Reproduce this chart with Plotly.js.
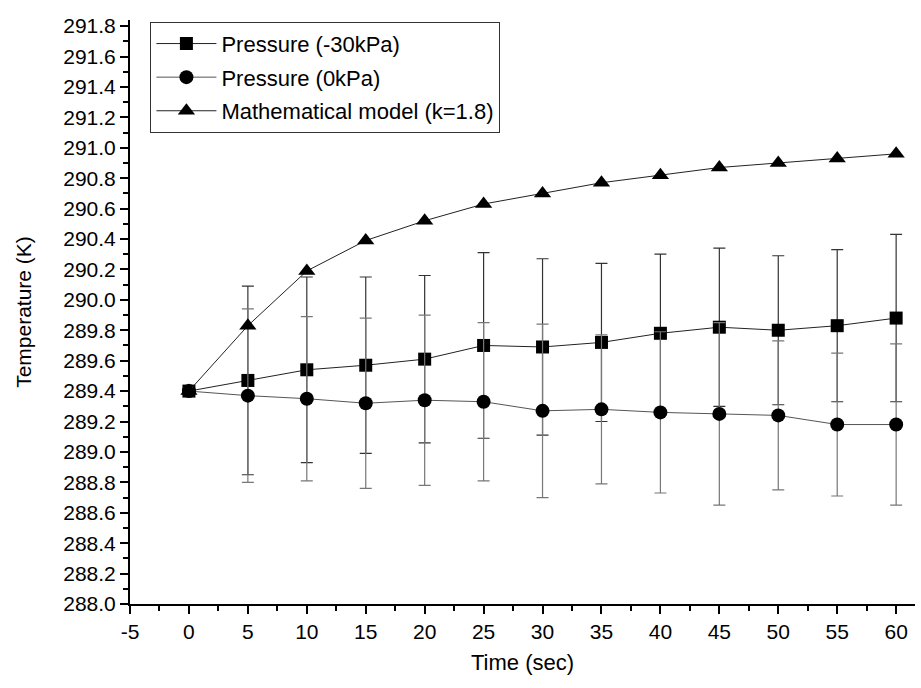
<!DOCTYPE html>
<html>
<head>
<meta charset="utf-8">
<script src="https://cdn.plot.ly/plotly-3.0.1.min.js"></script>
<style>html,body{margin:0;padding:0;background:#fff;}#chart{width:921px;height:688px;}</style>
</head>
<body>
<div id="chart"></div>
<script>
var timeSec = [0, 5, 10, 15, 20, 25, 30, 35, 40, 45, 50, 55, 60];
var pressureNeg30 = [289.40, 289.47, 289.54, 289.57, 289.61, 289.70, 289.69, 289.72, 289.78, 289.82, 289.80, 289.83, 289.88];
var errNeg30 = [null, 0.62, 0.61, 0.58, 0.55, 0.61, 0.58, 0.52, 0.52, 0.52, 0.49, 0.50, 0.55];
var pressure0 = [289.40, 289.37, 289.35, 289.32, 289.34, 289.33, 289.27, 289.28, 289.26, 289.25, 289.24, 289.18, 289.18];
var err0 = [null, 0.57, 0.54, 0.56, 0.56, 0.52, 0.57, 0.49, 0.53, 0.60, 0.49, 0.47, 0.53];
var modelK18 = [289.40, 289.83, 290.19, 290.39, 290.52, 290.63, 290.70, 290.77, 290.82, 290.87, 290.90, 290.93, 290.96];
var xTicks = [-5, 0, 5, 10, 15, 20, 25, 30, 35, 40, 45, 50, 55, 60];
var yTicks = [288.0, 288.2, 288.4, 288.6, 288.8, 289.0, 289.2, 289.4, 289.6, 289.8, 290.0, 290.2, 290.4, 290.6, 290.8, 291.0, 291.2, 291.4, 291.6, 291.8];

var font = 'Liberation Sans, Arial, sans-serif';
var traces = [
  {
    x: timeSec, y: pressureNeg30, name: 'Pressure (-30kPa)', mode: 'lines+markers', legendgroup: 'a',
    line: {color: '#222', width: 1},
    marker: {symbol: 'square', size: 13, color: '#000'},
    error_y: {type: 'data', array: errNeg30, visible: true, color: '#333', thickness: 1.2, width: 6}
  },
  {
    x: timeSec, y: pressure0, name: 'Pressure (0kPa)', mode: 'lines+markers', legendgroup: 'b',
    line: {color: '#555', width: 1},
    marker: {symbol: 'circle', size: 14, color: '#000'},
    error_y: {type: 'data', array: err0, visible: true, color: '#777', thickness: 1.2, width: 6}
  },
  {
    x: timeSec, y: modelK18, name: 'Mathematical model (k=1.8)', mode: 'lines+markers', legendgroup: 'c',
    line: {color: '#222', width: 1},
    marker: {symbol: 'triangle-up', size: 15, color: '#000'}
  }
];

var layout = {
  width: 921, height: 688,
  margin: {l: 130, r: 6, t: 20, b: 84},
  paper_bgcolor: '#fff', plot_bgcolor: '#fff',
  font: {family: font, color: '#000', size: 21},
  showlegend: true,
  legend: {
    x: 0.026, y: 0.997, xanchor: 'left', yanchor: 'top',
    bgcolor: '#fff', bordercolor: '#333', borderwidth: 1,
    font: {family: font, size: 22, color: '#000'},
    traceorder: 'grouped', tracegroupgap: 2, itemwidth: 60
  },
  xaxis: {
    range: [-5, 61.6], tickvals: xTicks, ticktext: xTicks.map(String),
    showgrid: false, zeroline: false, showline: true, linecolor: '#000', linewidth: 2,
    ticks: 'outside', ticklen: 8, tickwidth: 2, tickcolor: '#000',
    minor: {ticks: 'outside', ticklen: 5, tickwidth: 2, tickcolor: '#000', dtick: 2.5, tick0: -5, showgrid: false},
    tickfont: {family: font, size: 21},
    title: {text: 'Time (sec)', font: {family: font, size: 22}, standoff: 12}
  },
  yaxis: {
    range: [288.0, 291.84], tickvals: yTicks, ticktext: yTicks.map(function(v){return v.toFixed(1);}),
    showgrid: false, zeroline: false, showline: true, linecolor: '#000', linewidth: 2,
    ticks: 'outside', ticklen: 8, tickwidth: 2, tickcolor: '#000',
    minor: {ticks: 'outside', ticklen: 5, tickwidth: 2, tickcolor: '#000', dtick: 0.1, tick0: 288, showgrid: false},
    tickfont: {family: font, size: 21},
    title: {text: 'Temperature (K)', font: {family: font, size: 21}, standoff: 26}
  }
};

Plotly.newPlot('chart', traces, layout, {displayModeBar: false, staticPlot: true});
</script>
</body>
</html>
